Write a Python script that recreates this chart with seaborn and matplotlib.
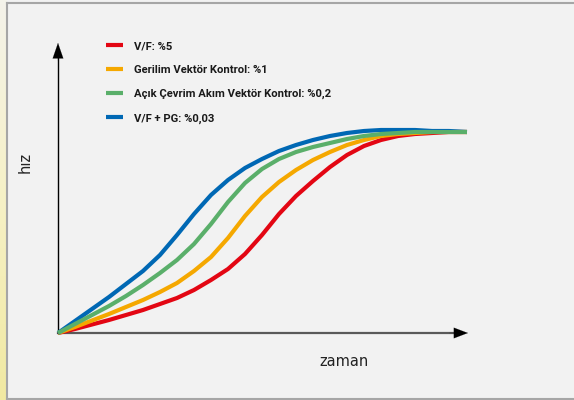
import numpy as np
import pandas as pd
import matplotlib
matplotlib.use("Agg")
import matplotlib.pyplot as plt
import seaborn as sns
from matplotlib.lines import Line2D
from matplotlib.colors import LinearSegmentedColormap

# ---- data (arbitrary time / speed units) ----
labels = ["V/F: %5", "Gerilim Vektör Kontrol: %1",
          "Açık Çevrim Akım Vektör Kontrol: %0,2", "V/F + PG: %0,03"]
colors = ["#e30613", "#f5a800", "#5aaf6a", "#0068b4"]

zaman = [0, 17, 34, 51, 68, 85, 102, 119, 136, 153, 170, 187, 204,
         221, 238, 255, 272, 289, 306, 323, 340, 357, 374, 391, 409]

red_y = [0, 4, 8.5, 13, 18, 23, 29, 35, 43, 53, 64, 79, 98,
         119, 137, 152, 166, 178, 187, 193, 197, 199, 200, 201, 201]
orange_y = [0, 6, 12.5, 19, 26, 33, 41, 50, 62, 76, 95, 117, 136,
            151, 163, 173, 181, 188, 193, 197, 199, 200, 201, 201, 201]
green_y = [0, 9, 18, 27, 37, 48, 60, 73, 89, 109, 131, 150, 164,
           174, 181, 186, 190, 194, 197, 199, 200, 201, 201, 201, 201]
blue_y = [0, 12, 24, 36, 49, 62, 78, 98, 119, 138, 153, 165, 174,
          182, 188, 193, 197, 200, 202, 203, 203, 203, 202, 202, 201]

series = [red_y, orange_y, green_y, blue_y]

df = pd.concat([pd.DataFrame({"zaman": zaman, "hız": y, "seri": lab})
                for lab, y in zip(labels, series)], ignore_index=True)

W, H = 574, 400
fig = plt.figure(figsize=(W / 100, H / 100), dpi=100)
fig.patch.set_facecolor("#f2f2f2")

# left yellowish strip
sax = fig.add_axes([0, 0, 6 / W, 1])
grad = np.linspace(0, 1, 100)[:, None]
cm = LinearSegmentedColormap.from_list("y", ["#f4f3ea", "#f6f1c6", "#f1e9a2"])
sax.imshow(grad, aspect="auto", cmap=cm, extent=[0, 1, 1, 0])
sax.set_axis_off()

# frame lines
fc = "#a6a6a6"
fig.add_artist(Line2D([6.5 / W, 6.5 / W], [1 / H, 1 - 3 / H], transform=fig.transFigure, color=fc, lw=1.5))
fig.add_artist(Line2D([6.5 / W, 1], [1 - 3 / H, 1 - 3 / H], transform=fig.transFigure, color=fc, lw=1.5))
fig.add_artist(Line2D([6.5 / W, 1], [1.5 / H, 1.5 / H], transform=fig.transFigure, color=fc, lw=1.5))

x0, y0 = 58, 333
ax = fig.add_axes([x0 / W, (H - y0) / H, (470 - x0) / W, (y0 - 40) / H])
ax.set_facecolor("none")

draw_order = [labels[0], labels[1], labels[3], labels[2]]
pal = dict(zip(labels, colors))
sns.lineplot(data=df, x="zaman", y="hız", hue="seri", hue_order=draw_order,
             palette=pal, linewidth=3, estimator=None, sort=False, ax=ax, legend=False)
for ln in ax.lines:
    ln.set_clip_on(False)
    ln.set_solid_capstyle("butt")
    ln.set_solid_joinstyle("round")

ax.set_xlim(0, 412)
ax.set_ylim(0, 293)
for s in ax.spines.values():
    s.set_visible(False)
ax.set_xticks([])
ax.set_yticks([])
ax.set_xlabel("")
ax.set_ylabel("")

# axes with arrows
ax.plot([0, 0.97], [0, 0], transform=ax.transAxes, color="#5a5a5a", lw=1.6, clip_on=False, zorder=1)
ax.annotate("", xy=(0.995, 0), xytext=(0.95, 0), xycoords="axes fraction",
            arrowprops=dict(arrowstyle="-|>,head_length=1.0,head_width=0.38", color="black",
                            lw=0.1, mutation_scale=10, shrinkA=0, shrinkB=0), annotation_clip=False)
ax.plot([0, 0], [0, 0.95], transform=ax.transAxes, color="black", lw=1.0, clip_on=False, zorder=1)
ax.annotate("", xy=(0, 0.99), xytext=(0, 0.93), xycoords="axes fraction",
            arrowprops=dict(arrowstyle="-|>,head_length=1.1,head_width=0.38", color="black",
                            lw=0.1, mutation_scale=10, shrinkA=0, shrinkB=0), annotation_clip=False)

# legend
handles = [Line2D([], [], color=c, lw=3, solid_capstyle="butt") for c in colors]
leg = fig.legend(handles, labels, loc="upper left", bbox_to_anchor=(106 / W, 1 - 41 / H),
                 frameon=False, borderpad=0, borderaxespad=0, handlelength=1.5,
                 handletextpad=0.95, labelspacing=1.24,
                 prop=dict(family=["Roboto", "DejaVu Sans"], weight="bold", size=8.1))
for t in leg.get_texts():
    t.set_color("#1a1a1a")

fig.text(344 / W, 1 - 362 / H, "zaman", ha="center", va="center", fontsize=10.5,
         family=["DejaVu Sans"], color="#222222")
fig.text(25 / W, 1 - 162 / H, "hız", ha="center", va="center", rotation=90, fontsize=10.5,
         family=["DejaVu Sans"], color="#222222")

fig.savefig("out.png", dpi=100, facecolor=fig.get_facecolor())
